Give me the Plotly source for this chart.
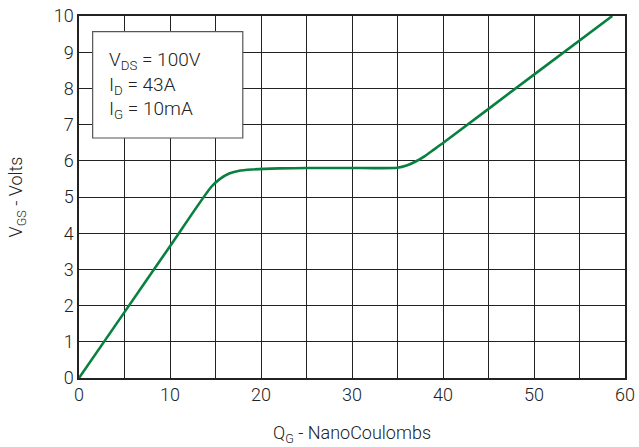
import plotly.graph_objects as go

# Gate charge curve
qg_nc = [0, 5, 10, 14.5, 15.5, 16.5, 17.5, 19, 22, 25, 30, 35, 36, 37, 38, 39, 40, 50, 58.6]
vgs_v = [0, 1.82, 3.64, 5.27, 5.5, 5.65, 5.72, 5.76, 5.79, 5.8, 5.8, 5.81, 5.87, 5.98, 6.13, 6.31, 6.49, 8.38, 10.0]

x_ticks = [0, 10, 20, 30, 40, 50, 60]
y_ticks = list(range(0, 11))
legend_lines = ["V<sub>DS</sub> = 100V", "I<sub>D</sub> = 43A", "I<sub>G</sub> = 10mA"]

FONT = "Roboto"
W = 300
fig = go.Figure()
fig.add_trace(go.Scatter(x=qg_nc, y=vgs_v, mode="lines",
                         line=dict(color="#0a8040", width=2.6, shape="spline", smoothing=0.6),
                         showlegend=False, hoverinfo="skip"))

fig.add_shape(type="rect", xref="x", yref="y", x0=1.5, x1=18.0, y0=6.63, y1=9.57,
              line=dict(color="#555555", width=1.2), fillcolor="white", layer="above")
fig.add_annotation(xref="x", yref="y", x=3.1, y=8.1, xanchor="left", yanchor="middle",
                   text="<br>".join(legend_lines), showarrow=False, align="left",
                   font=dict(family=FONT, size=19, color="#222", weight=W))

axis_common = dict(showgrid=True, gridcolor="#222222", gridwidth=1, zeroline=False,
                   showline=True, linecolor="#222222", linewidth=1.5, mirror=True,
                   ticks="", automargin=False,
                   tickfont=dict(family=FONT, size=18, color="#222", weight=W))
fig.update_xaxes(range=[0, 60], tickvals=list(range(0, 61, 5)),
                 ticktext=[str(v) if v in x_ticks else "" for v in range(0, 61, 5)],
                 title=dict(text="Q<sub>G</sub> - NanoCoulombs", font=dict(family=FONT, size=18, color="#222", weight=W), standoff=22),
                 **axis_common)
fig.update_yaxes(range=[0, 10], tickvals=y_ticks,
                 title=dict(text="V<sub>GS</sub> - Volts", font=dict(family=FONT, size=18, color="#222", weight=W), standoff=26),
                 **axis_common)
fig.update_layout(width=639, height=447, margin=dict(l=79, r=14, t=16, b=69),
                  plot_bgcolor="white", paper_bgcolor="white")
fig.write_html("out.html", config={"displayModeBar": False},
               post_script="document.body.style.margin='0';")
